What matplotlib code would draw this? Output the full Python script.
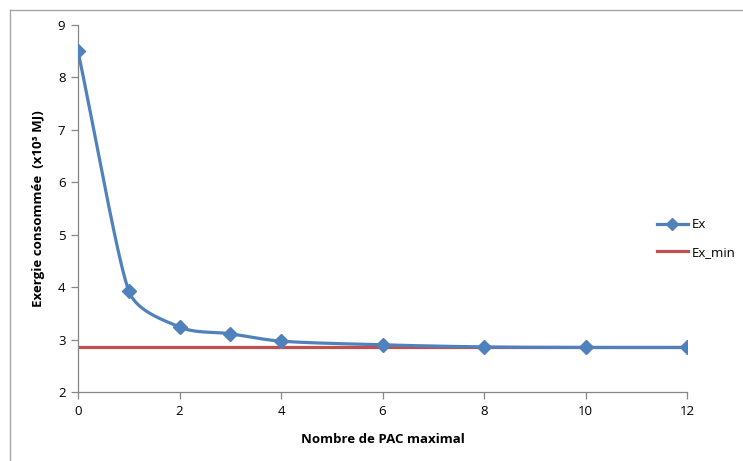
import numpy as np
import matplotlib.pyplot as plt
from matplotlib.lines import Line2D

# Data
nb_pac = [0, 1, 2, 3, 4, 6, 8, 10, 12]
ex = [8.5, 3.93, 3.24, 3.11, 2.97, 2.90, 2.86, 2.85, 2.85]
ex_min = [2.85, 2.85]
ex_min_x = [0, 12]

BLUE = "#4F81BD"
RED = "#C0504D"
GREY = "#868686"

plt.rcParams["font.family"] = ["Open Sans", "DejaVu Sans"]


def smooth(x, y, n=40, k=0.33, cap=1.6):
    """Excel-like smoothed line: Bezier segments, tangent length limited by the neighbour chord."""
    pts = np.column_stack([np.asarray(x, float), np.asarray(y, float)])
    m = len(pts)
    seg = [np.hypot(*(pts[i + 1] - pts[i])) for i in range(m - 1)]
    tang = []
    for i in range(m):
        d = pts[min(i + 1, m - 1)] - pts[max(i - 1, 0)]
        tang.append(d / np.hypot(*d))

    def size(point, own):
        other = [seg[j] for j in (point - 1, point) if 0 <= j < m - 1 and j != own]
        L = seg[own] if not other else min(seg[own], cap * other[0])
        return k * L

    px, py = [], []
    t = np.linspace(0, 1, n)[:, None]
    for i in range(m - 1):
        p1, p2 = pts[i], pts[i + 1]
        c1 = p1 + tang[i] * size(i, i)
        c2 = p2 - tang[i + 1] * size(i + 1, i)
        b = (1 - t) ** 3 * p1 + 3 * (1 - t) ** 2 * t * c1 + 3 * (1 - t) * t ** 2 * c2 + t ** 3 * p2
        px.extend(b[:, 0])
        py.extend(b[:, 1])
    return px, py


fig = plt.figure(figsize=(7.43, 4.61), dpi=100)
ax = fig.add_axes([78 / 743, 1 - 392 / 461, 609 / 743, 367 / 461])

sx, sy = smooth(nb_pac, ex)
ax.plot(sx, sy, color=BLUE, lw=2.3, zorder=3)
ax.plot(nb_pac, ex, ls="none", marker="D", ms=7, color=BLUE, zorder=4)
ax.plot(ex_min_x, ex_min, color=RED, lw=2.3, zorder=2)

ax.set_xlim(0, 12)
ax.set_ylim(2, 9)
ax.set_xticks(range(0, 13, 2))
ax.set_yticks(range(2, 10))

for s in ["top", "right"]:
    ax.spines[s].set_visible(False)
for s in ["left", "bottom"]:
    ax.spines[s].set_color(GREY)
    ax.spines[s].set_linewidth(0.9)
ax.tick_params(direction="out", length=5, color=GREY, width=0.9, labelsize=9.5, pad=4)

ax.set_xlabel("Nombre de PAC maximal", fontsize=9.5, fontweight="bold", labelpad=11)
ax.set_ylabel("Exergie consommée  (x10³ MJ)", fontsize=9.5, fontweight="bold", labelpad=9)

handles = [
    Line2D([], [], color=BLUE, lw=2.3, marker="D", ms=6),
    Line2D([], [], color=RED, lw=2.3),
]
ax.legend(handles, ["Ex", "Ex_min"], loc="center left", bbox_to_anchor=(0.95, 0.418),
          frameon=False, fontsize=9.5, handlelength=2.4, handletextpad=0.3,
          labelspacing=1.1, borderpad=0, borderaxespad=0)

# outer chart border (cropped on right and bottom)
fig.add_artist(Line2D([10 / 743, 1], [1 - 10 / 461, 1 - 10 / 461], color="#A6A6A6", lw=1))
fig.add_artist(Line2D([10 / 743, 10 / 743], [0, 1 - 10 / 461], color="#A6A6A6", lw=1))

fig.savefig("out.png", dpi=100)
